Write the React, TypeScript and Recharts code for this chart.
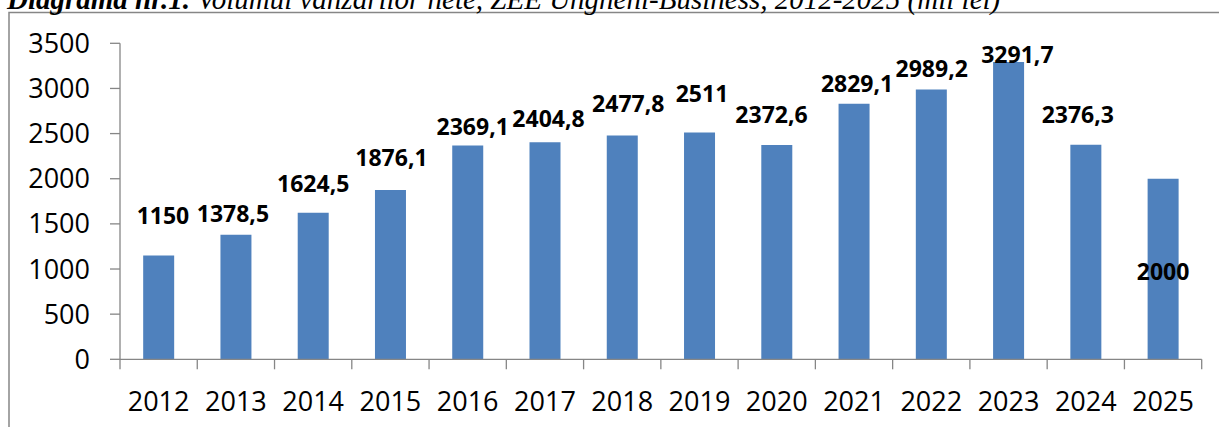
import React from 'react';
import { BarChart, Bar, XAxis, YAxis, LabelList } from 'recharts';

// ---- data ----
const years = ['2012', '2013', '2014', '2015', '2016', '2017', '2018', '2019', '2020', '2021', '2022', '2023', '2024', '2025'];
const sales = [1150, 1378.5, 1624.5, 1876.1, 2369.1, 2404.8, 2477.8, 2511, 2372.6, 2829.1, 2989.2, 3291.7, 2376.3, 2000];
const yTicks = [0, 500, 1000, 1500, 2000, 2500, 3000, 3500];
const titleBold = 'Diagrama nr.1.';
const titleRest = ' Volumul vânzărilor nete, ZEE Ungheni-Business, 2012-2025 (mil lei)';

// label nudges (dx, dy) relative to the top-centre of each bar, as placed in the original
const labelNudge: [number, number][] = [
  [4.3, -40.5], [-3, -22.3], [0, -30], [1, -33], [5, -19.5], [3.5, -24], [6, -33],
  [2.5, -39.5], [-5.3, -31], [3, -21], [0.4, -21.4], [8.8, -8.4], [-8, -30.3], [0, 91.8],
];

const rows = years.map((year, i) => ({ year, value: sales[i] }));

// ---- layout / style ----
const W = 1219;
const H = 427;
const M = { top: 43.3, right: 17.3, bottom: 7.7, left: 0 };
const Y_AXIS_W = 120;
const X_AXIS_H = 60;
const PLOT_W = W - M.left - M.right - Y_AXIS_W;
const BAND = PLOT_W / years.length;
const AXIS = '#868686';
const FONT = '"Open Sans", "Liberation Sans", sans-serif';
const fmt = (v: number) => String(v).replace('.', ',');

const XTick = (props: any) => {
  const { x, y, payload, index } = props;
  const idx = typeof index === 'number' ? index : years.indexOf(payload.value);
  const top = y - 30;
  const bottom = y - 20;
  const left = x - BAND / 2;
  return (
    <g>
      <line x1={left} x2={left} y1={top} y2={bottom} stroke={AXIS} strokeWidth={1.3} />
      {idx === years.length - 1 && (
        <line x1={x + BAND / 2} x2={x + BAND / 2} y1={top} y2={bottom} stroke={AXIS} strokeWidth={1.3} />
      )}
      <text x={x} y={y + 10.7} textAnchor="middle" dominantBaseline="central" fill="#000" fontSize={27} fontFamily={FONT}>
        {payload.value}
      </text>
    </g>
  );
};

const BarLabel = (props: any) => {
  const vb = props.viewBox || props;
  const x = vb.x ?? props.x;
  const y = vb.y ?? props.y;
  const width = vb.width ?? props.width;
  const height = vb.height ?? props.height;
  const value = props.value;
  let idx = typeof props.index === 'number' ? props.index : sales.indexOf(Number(value));
  if (idx < 0) idx = 0;
  const topY = height >= 0 ? y : y + height;
  const [dx, dy] = labelNudge[idx];
  return (
    <text
      x={x + width / 2 + dx}
      y={topY + dy}
      textAnchor="middle"
      dominantBaseline="central"
      fill="#000"
      fontWeight={700}
      fontSize={23}
      fontFamily={FONT}
    >
      {fmt(Number(value))}
    </text>
  );
};

export default function App() {
  return (
    <div style={{ position: 'absolute', left: 0, top: 0, width: W, height: H, overflow: 'hidden', background: '#fff' }}>
      <svg width={W} height={H} style={{ position: 'absolute', left: 0, top: 0 }}>
        <rect x={9} y={12.5} width={W + 20} height={H + 20} fill="#fff" stroke={AXIS} strokeWidth={1.5} />
        <text x={7} y={9} fontFamily='"Liberation Serif", "Times New Roman", serif' fontSize={29} fontStyle="italic" fill="#000">
          <tspan fontWeight={700}>{titleBold}</tspan>
          <tspan>{titleRest}</tspan>
        </text>
      </svg>
      <div style={{ position: 'absolute', left: 0, top: 0 }}>
        <BarChart width={W} height={H} data={rows} margin={M} barCategoryGap="30%">
          <XAxis
            dataKey="year"
            height={X_AXIS_H}
            interval={0}
            axisLine={{ stroke: AXIS, strokeWidth: 1.3 }}
            tickLine={false}
            tickSize={10}
            tickMargin={20}
            tick={<XTick />}
          />
          <YAxis
            width={Y_AXIS_W}
            domain={[0, 3500]}
            ticks={yTicks}
            interval={0}
            axisLine={{ stroke: AXIS, strokeWidth: 1.3 }}
            tickLine={{ stroke: AXIS, strokeWidth: 1.3 }}
            tickSize={10}
            tickMargin={20}
            tick={{ fill: '#000', fontSize: 27, fontFamily: FONT }}
          />
          <Bar dataKey="value" fill="#4F81BD" isAnimationActive={false}>
            <LabelList dataKey="value" content={<BarLabel />} />
          </Bar>
        </BarChart>
      </div>
    </div>
  );
}
